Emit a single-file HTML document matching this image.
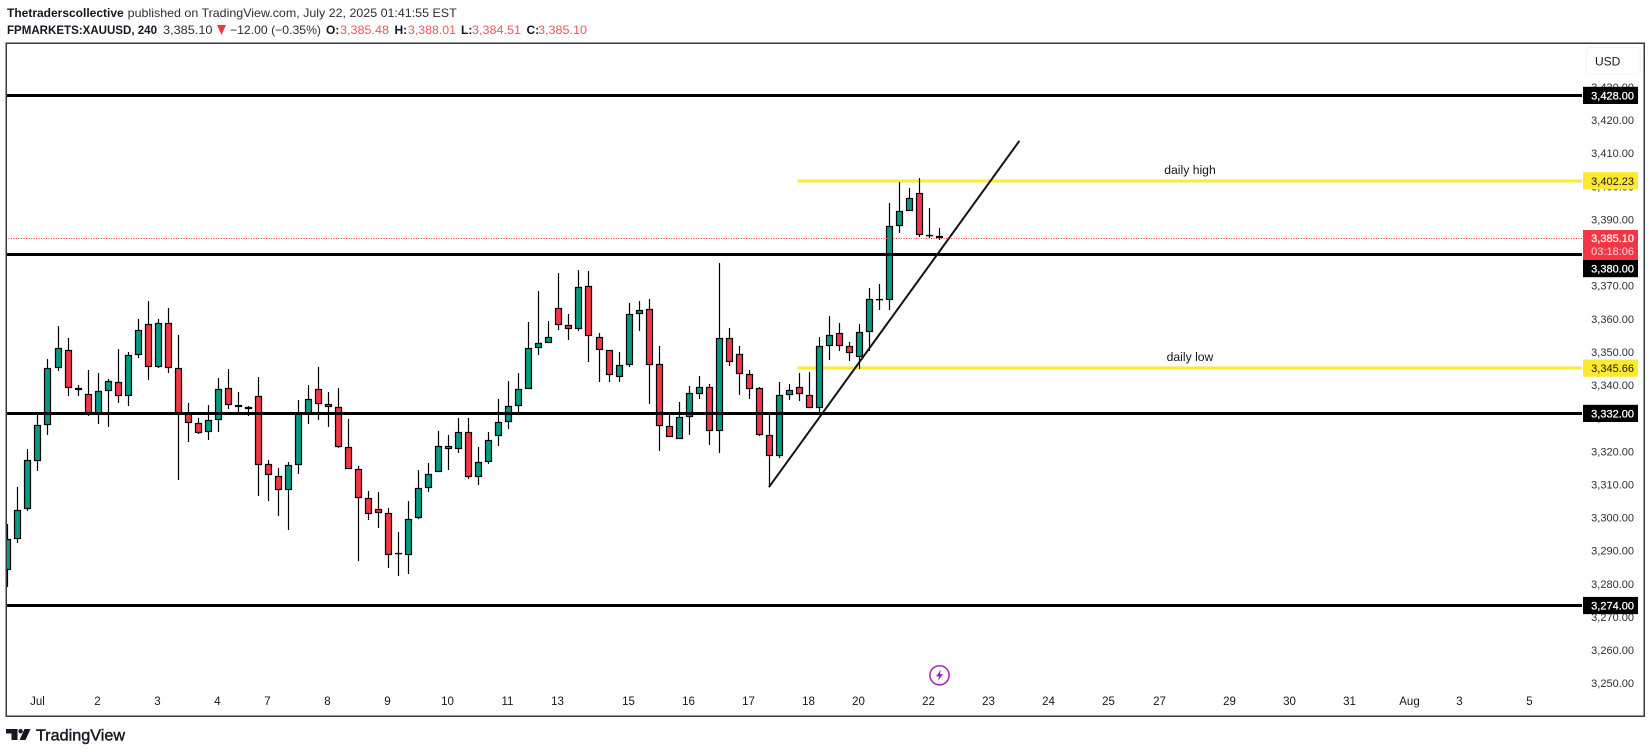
<!DOCTYPE html>
<html lang="en">
<head>
<meta charset="utf-8">
<title>FPMARKETS:XAUUSD 240 chart</title>
<style>
html,body{margin:0;padding:0;background:#fff;width:1651px;height:753px;overflow:hidden}
svg{display:block;font-family:"Liberation Sans",Arial,sans-serif}
</style>
</head>
<body>
<svg id="chart" xmlns="http://www.w3.org/2000/svg" width="1651" height="753" viewBox="0 0 1651 753">
  <defs><clipPath id="pane-clip"><rect x="6" y="43" width="1576" height="673"/></clipPath></defs>
  <rect x="0" y="0" width="1651" height="753" fill="#fff"/>

  <g font-size="12" fill="#131722">
    <text x="7" y="17" font-weight="700" textLength="116.7" lengthAdjust="spacingAndGlyphs">Thetraderscollective</text>
    <text x="127.7" y="17" fill="#2a2e39" textLength="329" lengthAdjust="spacingAndGlyphs">published on TradingView.com, July 22, 2025 01:41:55 EST</text>
  </g>
  <g font-size="12" fill="#131722">
    <text x="7" y="34" font-weight="700" textLength="150" lengthAdjust="spacingAndGlyphs">FPMARKETS:XAUUSD, 240</text>
    <text x="163" y="34" fill="#2a2e39" textLength="49.5" lengthAdjust="spacingAndGlyphs">3,385.10</text>
    <polygon points="217,25 226,25 221.5,35" fill="#f23645"/>
    <text x="230" y="34" fill="#2a2e39" textLength="91" lengthAdjust="spacingAndGlyphs">−12.00 (−0.35%)</text>
    <text x="326" y="34" font-weight="700">O:</text>
    <text x="340" y="34" fill="#f7525f" textLength="49" lengthAdjust="spacingAndGlyphs">3,385.48</text>
    <text x="394.5" y="34" font-weight="700">H:</text>
    <text x="408" y="34" fill="#f7525f" textLength="48" lengthAdjust="spacingAndGlyphs">3,388.01</text>
    <text x="461" y="34" font-weight="700">L:</text>
    <text x="472" y="34" fill="#f7525f" textLength="49" lengthAdjust="spacingAndGlyphs">3,384.51</text>
    <text x="526.5" y="34" font-weight="700">C:</text>
    <text x="538" y="34" fill="#f7525f" textLength="49" lengthAdjust="spacingAndGlyphs">3,385.10</text>
  </g>

  <g id="pane" clip-path="url(#pane-clip)"></g>
  <g id="time-axis" font-size="11.5" fill="#131722" text-anchor="middle"></g>
  <g id="price-axis" font-size="11"></g>

  <rect x="6.25" y="43.25" width="1638" height="673" fill="none" stroke="#363a45" stroke-width="1.5"/>

  <g>
    <rect x="1586" y="47.5" width="54" height="26.5" rx="4" fill="#fff" stroke="#f0f3fa" stroke-width="1.2"/>
    <text x="1595" y="65.5" font-size="12" fill="#131722">USD</text>
  </g>

  <g>
    <circle cx="939.5" cy="675.3" r="9.6" fill="#fff" stroke="#9c27b0" stroke-width="1.5"/>
    <polygon points="941,669.5 936,676.5 939,676.5 938,681 943,674 940,674" fill="#9c27b0"/>
  </g>

  <g fill="#131722">
    <polygon points="6,729 17.5,729 17.5,740 11.5,740 11.5,733.5 6,733.5"/>
    <circle cx="20.6" cy="731.2" r="2.2"/>
    <polygon points="24.5,729 30.5,729 25.5,740 19.5,740"/>
    <text x="36" y="740.3" font-size="16" stroke="#131722" stroke-width="0.4" textLength="89" lengthAdjust="spacingAndGlyphs">TradingView</text>
  </g>
</svg>
<script>
/* ---- candle data (FPMARKETS:XAUUSD, 240) ---- */
const opens = [3284.90,3294.26,3303.31,3317.80,3328.67,3345.88,3351.31,3339.84,3338.03,3331.99,3338.94,3341.65,3337.43,3349.80,3359.16,3346.18,3359.46,3345.88,3332.19,3329.28,3326.56,3330.18,3339.84,3334.71,3334.11,3337.43,3316.90,3313.28,3309.05,3316.60,3331.99,3339.54,3335.01,3334.11,3322.03,3315.39,3306.63,3303.31,3302.11,3289.83,3289.43,3300.60,3309.65,3314.48,3322.33,3321.43,3326.56,3312.97,3317.50,3325.35,3329.58,3334.41,3339.54,3351.92,3353.43,3363.99,3358.86,3357.65,3370.63,3355.24,3351.31,3343.16,3346.79,3362.18,3363.69,3347.09,3328.37,3324.45,3331.09,3338.03,3340.14,3326.86,3354.94,3350.11,3344.07,3339.84,3325.65,3319.31,3337.73,3340.14,3337.73,3333.80,3352.52,3356.45,3352.52,3349.20,3356.75,3366.61,3366.40,3388.74,3393.27,3398.70,3386.02,3385.48];
const closes = [3294.26,3303.01,3318.11,3328.67,3345.88,3351.92,3339.84,3339.14,3331.99,3338.94,3341.95,3337.43,3349.80,3357.35,3346.18,3359.46,3345.88,3332.19,3329.28,3326.26,3330.18,3339.54,3334.71,3334.11,3333.50,3316.60,3313.58,3309.05,3316.60,3332.19,3336.52,3335.01,3334.11,3322.03,3315.39,3306.63,3301.80,3302.11,3289.43,3289.63,3300.29,3309.65,3313.88,3322.33,3321.43,3326.56,3312.97,3317.50,3324.14,3329.58,3334.41,3339.54,3351.92,3353.43,3355.24,3358.86,3357.65,3370.33,3355.54,3351.31,3343.77,3346.79,3362.18,3363.39,3346.79,3328.37,3325.05,3331.09,3338.33,3340.14,3326.86,3354.94,3347.69,3344.07,3339.54,3325.65,3319.31,3337.73,3339.24,3338.03,3333.80,3352.52,3355.84,3352.52,3350.41,3356.75,3366.71,3366.41,3388.74,3393.27,3397.19,3386.02,3385.62,3385.10];
const highs = [3298.78,3309.75,3321.22,3331.49,3348.40,3358.36,3354.73,3340.55,3345.07,3344.17,3342.56,3351.41,3350.71,3360.47,3365.90,3360.67,3363.79,3355.64,3335.11,3330.58,3334.51,3342.66,3345.38,3338.43,3334.21,3342.96,3317.90,3315.49,3317.30,3336.02,3340.55,3345.98,3338.43,3339.64,3330.28,3316.09,3308.55,3308.24,3303.41,3296.17,3305.53,3314.89,3317.00,3326.66,3325.45,3330.58,3330.58,3321.83,3326.36,3336.32,3341.75,3344.17,3359.57,3368.92,3359.87,3374.36,3361.98,3375.26,3374.96,3356.45,3351.31,3350.71,3365.30,3365.90,3366.51,3352.32,3331.99,3335.41,3340.24,3343.26,3341.05,3377.38,3357.75,3352.32,3345.07,3340.14,3331.99,3341.45,3341.05,3344.17,3344.47,3355.04,3361.38,3359.26,3353.53,3358.96,3369.83,3371.04,3395.48,3401.82,3400.01,3403.03,3393.97,3388.01];
const lows = [3279.66,3292.95,3302.61,3314.68,3325.55,3344.87,3337.33,3337.33,3331.29,3328.87,3327.97,3335.21,3334.31,3348.80,3342.16,3345.78,3344.27,3311.97,3323.44,3325.85,3324.04,3326.46,3333.40,3331.99,3331.29,3307.14,3305.63,3301.10,3296.87,3313.78,3328.87,3330.08,3327.97,3321.63,3315.39,3287.51,3299.89,3297.48,3285.40,3282.99,3283.59,3300.19,3308.34,3314.48,3314.99,3320.12,3312.27,3310.46,3316.80,3322.23,3327.36,3331.99,3339.54,3349.70,3353.43,3357.25,3354.23,3356.95,3347.59,3341.55,3341.55,3341.55,3346.08,3356.95,3334.91,3320.72,3325.05,3324.45,3325.55,3336.42,3322.53,3320.12,3346.48,3337.63,3336.42,3325.25,3309.85,3318.71,3336.12,3335.82,3333.80,3331.99,3348.19,3350.91,3347.89,3345.48,3350.91,3363.19,3363.18,3386.43,3393.27,3385.22,3385.02,3384.51];

/* ---- axes ---- */
const priceTicks = [3430,3420,3410,3400,3390,3380,3370,3360,3350,3340,3330,3320,3310,3300,3290,3280,3270,3260,3250];
const timeLabels = ['Jul','2','3','4','7','8','9','10','11','13','15','16','17','18','20','22','23','24','25','27','29','30','31','Aug','3','5'];
const timeLabelBars = [3,9,15,21,26,32,38,44,50,55,62,68,74,80,85,92,98,104,110,115,122,128,134,140,145,152];

/* ---- drawings ---- */
const supportLevels = [3428,3380,3332,3274];
const dailyLevels = [3402.23,3345.66];
const dailyLevelNames = ['daily high','daily low'];
const dailyLevelStartBar = 78.87;
const trendBars = [76,101];
const trendPrices = [3309.75,3414.3];
const lastPrice = 3385.10;
const countdown = '03:18:06';

const SVG_NS = 'http://www.w3.org/2000/svg';
const UP = '#089981', DOWN = '#f23645', PANE_RIGHT = 1582, LABEL_X = 1583, LABEL_W = 55, TEXT_RIGHT = 1634;

function yScale(v){ return 95.5 + (3428 - v) * 3.3125; }
function xBar(i){ return 7 + Math.floor(i * 10.0185 + 0.92); }
function xFree(i){ return 7.5 + i * 10.0185; }
function fmt(v){ return v.toLocaleString('en-US',{minimumFractionDigits:2,maximumFractionDigits:2}); }
function make(tag, attrs, parent, text){
  const el = document.createElementNS(SVG_NS, tag);
  for (const k in attrs) el.setAttribute(k, attrs[k]);
  if (text !== undefined) el.textContent = text;
  parent.appendChild(el);
  return el;
}

const pane = document.getElementById('pane');
const timeAxis = document.getElementById('time-axis');
const priceAxis = document.getElementById('price-axis');

/* yellow daily levels sit beneath the candles */
dailyLevels.forEach(function(v, n){
  const y = Math.round(yScale(v));
  const x0 = xFree(dailyLevelStartBar);
  const line = make('rect', {x:x0, y:y-1.5, width:PANE_RIGHT-x0, height:3, fill:'#ffe92f'}, pane);
  
  
  const label = make('text', {x:1190, y:y-7, 'text-anchor':'middle', 'font-size':12.2, fill:'#131722'}, pane, dailyLevelNames[n]);
  
  
});

/* candles */
opens.forEach(function(o, i){
  const c = closes[i];
  const col = xBar(i);
  const wickTop = Math.round(yScale(highs[i]));
  const wickBot = Math.round(yScale(lows[i]));
  const wick = make('rect', {x:col-0.1, y:wickTop, width:1.2, height:Math.max(1, wickBot-wickTop), fill:'#000'}, pane);
  
  
  const top = Math.round(yScale(Math.max(o, c)));
  const bot = Math.round(yScale(Math.min(o, c)));
  const body = make('rect', {x:col-2.5, y:top+0.5, width:6, height:Math.max(0.2, bot-top-1), fill:c >= o ? UP : DOWN, stroke:'#000', 'stroke-width':1.2}, pane);
  
  
});

/* dotted last price line */
const lastY = Math.round(yScale(lastPrice)) ;
const lastLine = make('line', {x1:6, x2:PANE_RIGHT, y1:lastY+0.5, y2:lastY+0.5, stroke:'#f23645', 'stroke-width':1, 'stroke-dasharray':'1 1.5'}, pane);



/* black support / resistance lines */
supportLevels.forEach(function(v){
  const y = Math.round(yScale(v) - 1.5);
  const line = make('rect', {x:6, y:y, width:PANE_RIGHT-6, height:3, fill:'#000'}, pane);
  
  
});

/* trend line */
const trend = make('line', {x1:xFree(trendBars[0]), y1:yScale(trendPrices[0]), x2:xFree(trendBars[1]), y2:yScale(trendPrices[1]), stroke:'#131313', 'stroke-width':2}, pane);



/* time axis */
timeLabels.forEach(function(t, n){
  const lab = make('text', {x:xBar(timeLabelBars[n])+(t === 'Jul' ? 0.5 : -0.5), y:705, 'font-weight':(t === 'Aug' || t === 'Jul') ? 500 : 400}, timeAxis, t);
  
  
});

/* price axis ticks */
priceTicks.forEach(function(v){
  const lab = make('text', {x:TEXT_RIGHT, y:yScale(v)-1.9+4, 'text-anchor':'end', fill:'#2a2e39'}, priceAxis, fmt(v));
  
  
});

/* price axis level tags */
const lastBoxTop = lastY - 8;
const lastBoxBottom = lastBoxTop + 30;
supportLevels.forEach(function(v){
  let top = yScale(v) - 8.7;
  if (top < lastBoxBottom && top + 17 > lastBoxTop) top = lastBoxBottom;
  const box = make('rect', {x:LABEL_X, y:top, width:LABEL_W, height:17.2, fill:'#000'}, priceAxis);
  
  
  const txt = make('text', {x:TEXT_RIGHT, y:top+12.6, 'text-anchor':'end', fill:'#fff', stroke:'#fff', 'stroke-width':0.25}, priceAxis, fmt(v));
  
  
});
dailyLevels.forEach(function(v){
  const top = yScale(v) - 8.7;
  const box = make('rect', {x:LABEL_X, y:top, width:LABEL_W, height:17.2, fill:'#ffe92f'}, priceAxis);
  
  
  const txt = make('text', {x:TEXT_RIGHT, y:top+12.6, 'text-anchor':'end', fill:'#131722'}, priceAxis, fmt(v));
  
  
});

const lastBox = make('rect', {x:LABEL_X, y:lastBoxTop, width:LABEL_W, height:30, fill:'#f23645'}, priceAxis);


const lastTxt = make('text', {x:TEXT_RIGHT, y:lastBoxTop+11.8, 'text-anchor':'end', fill:'#fff', stroke:'#fff', 'stroke-width':0.25}, priceAxis, fmt(lastPrice));


const countTxt = make('text', {x:TEXT_RIGHT, y:lastBoxTop+25, 'text-anchor':'end', fill:'#fcd5d8'}, priceAxis, countdown);


</script>
</body>
</html>
